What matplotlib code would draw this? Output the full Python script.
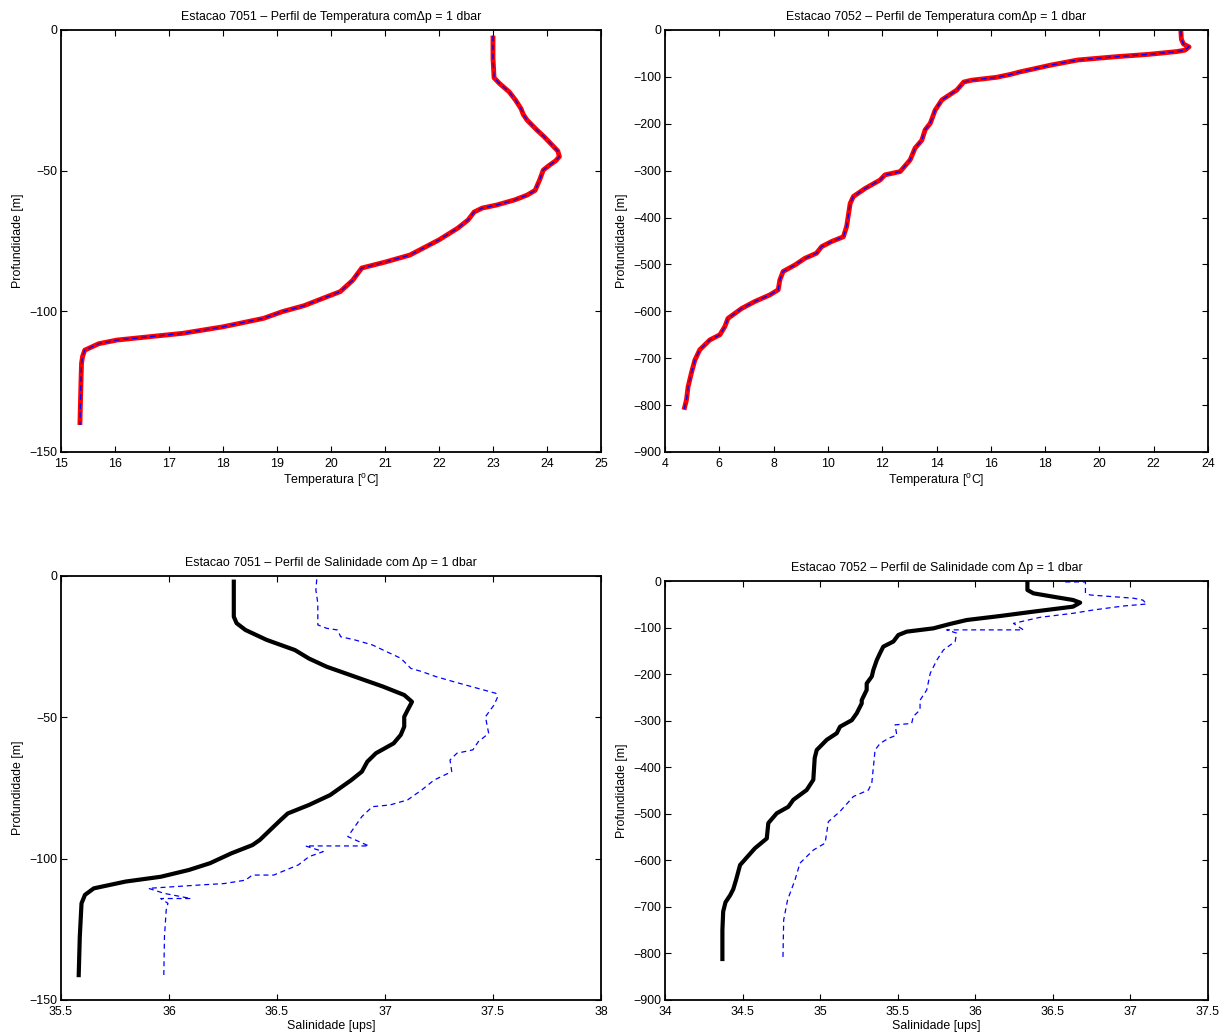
import matplotlib
matplotlib.use('Agg')
import matplotlib.pyplot as plt

# ---------------- data ----------------
# Station 7051 temperature (depth m, temperature degC)
t1_depth = [-2, -10, -17, -19, -22, -25, -28, -30, -32, -35.5, -38, -41, -43, -45, -46.5, -48,
            -49.8, -53, -57, -58.7, -60.4, -62.2, -63.3, -64.7, -67.5, -70.4, -74.6, -80, -82.5,
            -84.6, -89, -93, -95, -98, -100.1, -102.5, -105.5, -107.8, -110.2, -111.5, -113.8,
            -116, -118.5, -125, -140.4]
t1_temp = [23.0, 23.0, 23.02, 23.12, 23.3, 23.42, 23.52, 23.56, 23.63, 23.81, 23.95, 24.1, 24.2,
           24.23, 24.16, 24.05, 23.93, 23.87, 23.78, 23.63, 23.4, 23.07, 22.8, 22.65, 22.54,
           22.35, 22.0, 21.46, 21.0, 20.57, 20.4, 20.17, 19.9, 19.5, 19.1, 18.75, 18.0, 17.26,
           16.04, 15.7, 15.44, 15.4, 15.38, 15.37, 15.35]

# Station 7052 temperature
t2_depth = [-2, -20, -30, -36, -43, -46, -52, -57, -64, -75, -84, -89, -95, -101, -107, -111,
            -118, -128, -149, -171, -199, -213, -235, -252, -277, -302, -309, -320, -338, -355,
            -370, -419, -441, -451, -462, -476, -487, -501, -515, -533, -554, -565, -579, -594,
            -615, -633, -650, -661, -682, -704, -732, -761, -789, -810]
t2_temp = [23.0, 23.02, 23.1, 23.3, 23.15, 22.85, 21.8, 20.6, 19.2, 18.2, 17.5, 17.1, 16.7, 16.2,
           15.3, 15.0, 14.9, 14.75, 14.2, 13.95, 13.77, 13.58, 13.46, 13.21, 13.03, 12.66, 12.1,
           11.92, 11.37, 10.94, 10.82, 10.69, 10.57, 10.14, 9.77, 9.58, 9.15, 8.79, 8.35, 8.23,
           8.17, 7.86, 7.31, 6.82, 6.32, 6.2, 6.02, 5.65, 5.28, 5.1, 4.97, 4.85, 4.79, 4.7]

# Station 7051 salinity (black, thick)
s1_depth = [-2, -14.4, -16.7, -19.1, -22.6, -26.2, -29.2, -32.1, -35.6, -39.1, -42.1, -44.5,
            -47.4, -49.8, -53.3, -56.2, -59.2, -62.7, -65.7, -69.2, -72.2, -77.5, -81.0, -84.0,
            -86.3, -93.4, -95.2, -98.1, -101.6, -104.0, -106.4, -108.1, -110.5, -112.8, -115.8,
            -127.6, -141.2]
s1_sal = [36.30, 36.30, 36.313, 36.354, 36.452, 36.583, 36.648, 36.73, 36.86, 36.99, 37.089,
          37.125, 37.105, 37.089, 37.089, 37.073, 37.04, 36.958, 36.918, 36.893, 36.844, 36.746,
          36.648, 36.55, 36.517, 36.42, 36.386, 36.289, 36.19, 36.092, 35.962, 35.799, 35.652,
          35.611, 35.595, 35.587, 35.582]

# Station 7051 salinity (blue, dashed)
b1_depth = [-1.2, -5.0, -9.7, -17.3, -18.5, -19.1, -21.5, -22.6, -24.4, -26.8, -29.1, -32.7,
            -33.8, -35.6, -37.4, -41.5, -42.7, -45.6, -49.8, -55.7, -58.6, -61.5, -62.7, -65.1,
            -69.2, -72.2, -75.7, -79.2, -81.0, -81.6, -85.1, -88.7, -92.2, -95.5, -95.5, -97.5,
            -99.3, -102.2, -105.8, -105.8, -107.6, -108.8, -109.4, -110.5, -112.3, -114.1,
            -114.1, -115.8, -118.2, -127.6, -141.2]
b1_sal = [36.684, 36.68, 36.689, 36.689, 36.73, 36.78, 36.795, 36.86, 36.942, 37.008, 37.073,
          37.12, 37.17, 37.236, 37.318, 37.513, 37.522, 37.505, 37.465, 37.48, 37.432, 37.407,
          37.333, 37.301, 37.309, 37.227, 37.17, 37.105, 37.023, 36.942, 36.893, 36.86, 36.828,
          36.925, 36.632, 36.714, 36.648, 36.599, 36.485, 36.386, 36.354, 36.256, 36.125,
          35.905, 35.979, 36.101, 35.962, 35.995, 35.987, 35.979, 35.976]

# Station 7052 salinity (black, thick)
s2_depth = [-2, -19.3, -26.5, -33.6, -40.8, -46.5, -55.1, -65.8, -75.2, -83.8, -92.3, -101.7,
            -108.8, -116, -130, -141, -155, -170, -191, -205, -220, -234, -256, -263, -284, -299,
            -313, -327, -341, -363, -380, -427, -449, -470, -485, -499, -520, -553, -574, -610,
            -642, -662, -675, -690, -710, -750, -812]
s2_sal = [36.336, 36.336, 36.375, 36.50, 36.63, 36.676, 36.63, 36.375, 36.16, 35.945, 35.837,
          35.73, 35.558, 35.504, 35.472, 35.407, 35.386, 35.365, 35.343, 35.333, 35.30, 35.30,
          35.268, 35.268, 35.236, 35.204, 35.128, 35.107, 35.043, 34.978, 34.965, 34.956,
          34.913, 34.827, 34.795, 34.72, 34.666, 34.656, 34.58, 34.484, 34.458, 34.44, 34.42,
          34.39, 34.375, 34.37, 34.37]

# Station 7052 salinity (blue, dashed)
b2_depth = [-2, -2, -26, -30, -37, -41, -49.4, -53.7, -62.3, -69.4, -78, -91, -105, -105, -112,
            -130, -148, -170, -198, -234, -256, -277, -291, -306, -309, -331, -338, -349, -363,
            -434, -449, -463, -495, -517, -563, -578, -606, -642, -685, -728, -814]
b2_sal = [36.58, 36.71, 36.71, 36.74, 37.02, 37.08, 37.105, 36.955, 36.76, 36.63, 36.418,
          36.246, 36.31, 35.816, 35.88, 35.87, 35.795, 35.752, 35.71, 35.687, 35.644, 35.644,
          35.60, 35.59, 35.483, 35.494, 35.44, 35.386, 35.354, 35.333, 35.311, 35.214, 35.128,
          35.053, 35.032, 34.956, 34.87, 34.838, 34.79, 34.765, 34.76]

# tick values
xt_t1 = [15, 16, 17, 18, 19, 20, 21, 22, 23, 24, 25]
xt_t2 = [4, 6, 8, 10, 12, 14, 16, 18, 20, 22, 24]
xt_s1 = [35.5, 36, 36.5, 37, 37.5, 38]
xt_s2 = [34, 34.5, 35, 35.5, 36, 36.5, 37, 37.5]
yt_150 = [-150, -100, -50, 0]
yt_900 = [-900, -800, -700, -600, -500, -400, -300, -200, -100, 0]

titles = ["Estacao 7051 \u2013 Perfil de Temperatura com\u0394p = 1 dbar",
          "Estacao 7052 \u2013 Perfil de Temperatura com\u0394p = 1 dbar",
          "Estacao 7051 \u2013 Perfil de Salinidade com \u0394p = 1 dbar",
          "Estacao 7052 \u2013 Perfil de Salinidade com \u0394p = 1 dbar"]

# ---------------- style ----------------
plt.rcParams['font.family'] = ['Liberation Sans', 'DejaVu Sans']
plt.rcParams['mathtext.fontset'] = 'custom'
plt.rcParams['mathtext.rm'] = 'Liberation Sans'
plt.rcParams['mathtext.it'] = 'Liberation Sans:italic'

W, H = 1221, 1036
fig = plt.figure(figsize=(W / 100, H / 100), dpi=100)
FS = 8.9


def px_axes(l, t, r, b):
    return fig.add_axes([l / W, 1 - b / H, (r - l) / W, (b - t) / H])


def style(ax, xlim, xt, ylim, yt, title, xlabel):
    ax.set_xlim(xlim)
    ax.set_ylim(ylim)
    ax.set_xticks(xt)
    ax.set_xticklabels(['%g' % v for v in xt])
    ax.set_yticks(yt)
    ax.set_yticklabels([('\u2212%g' % -v) if v < 0 else '%g' % v for v in yt])
    ax.tick_params(direction='in', top=True, right=True, length=4.5, width=0.8,
                   labelsize=FS, colors='black')
    ax.tick_params(axis='x', pad=4)
    ax.tick_params(axis='y', pad=2.5)
    for s in ax.spines.values():
        s.set_linewidth(1.3)
    ax.set_title(title, fontsize=FS, pad=7.5)
    ax.set_xlabel(xlabel, fontsize=FS, labelpad=2)
    ax.set_ylabel('Profundidade [m]', fontsize=FS, labelpad=4)


temp_label = 'Temperatura [$^{\\mathrm{o}}$C]'
sal_label = 'Salinidade [ups]'

ax1 = px_axes(61, 30, 601, 452)
ax1.plot(t1_temp, t1_depth, color='red', lw=3.5, solid_capstyle='butt')
ax1.plot(t1_temp, t1_depth, color='blue', lw=1.0, ls=(0, (4, 2.5)))
style(ax1, (15, 25), xt_t1, (-150, 0), yt_150, titles[0], temp_label)

ax2 = px_axes(665, 30, 1208, 452)
ax2.plot(t2_temp, t2_depth, color='red', lw=3.5, solid_capstyle='butt')
ax2.plot(t2_temp, t2_depth, color='blue', lw=1.0, ls=(0, (4, 2.5)))
style(ax2, (4, 24), xt_t2, (-900, 0), yt_900, titles[1], temp_label)

ax3 = px_axes(61, 576, 601, 1000)
ax3.plot(s1_sal, s1_depth, color='black', lw=3.0)
ax3.plot(b1_sal, b1_depth, color='blue', lw=0.9, ls=(0, (4, 3)))
style(ax3, (35.5, 38), xt_s1, (-150, 0), yt_150, titles[2], sal_label)

ax4 = px_axes(665, 581, 1208, 1000)
ax4.plot(s2_sal, s2_depth, color='black', lw=3.0)
ax4.plot(b2_sal, b2_depth, color='blue', lw=0.9, ls=(0, (4, 3)))
style(ax4, (34, 37.5), xt_s2, (-900, 0), yt_900, titles[3], sal_label)

fig.savefig('out.png', dpi=100, facecolor='white')
